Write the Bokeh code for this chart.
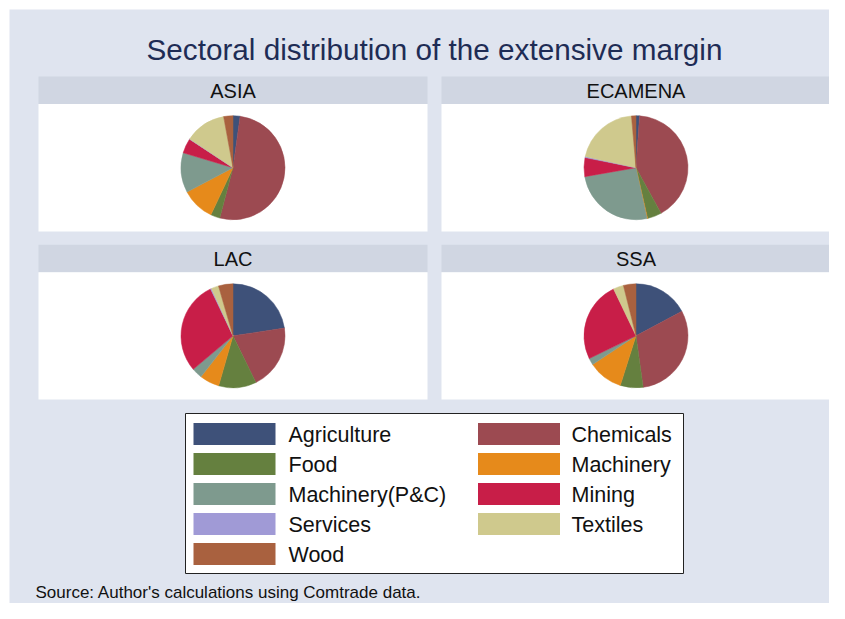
import numpy as np
from bokeh.plotting import figure
from bokeh.models import Range1d, Label, ColumnDataSource
from bokeh.core.properties import value
from bokeh.embed import file_html
from bokeh.resources import INLINE

# ---------------- data ----------------
sectors = ["Agriculture", "Chemicals", "Food", "Machinery", "Machinery(P&C)",
           "Mining", "Services", "Textiles", "Wood"]
colors = ["#3e5179", "#9c4a51", "#65803f", "#e68a1b", "#7e9a8e",
          "#c81e48", "#a09ad6", "#cfc98d", "#a9613f"]
regions = ["ASIA", "ECAMENA", "LAC", "SSA"]
asia = [2.2, 52.0, 2.9, 10.3, 12.4, 4.6, 0.1, 12.8, 2.9]
ecamena = [1.1, 41.0, 4.4, 0.2, 25.7, 5.9, 0.3, 20.2, 1.4]
lac = [22.6, 20.1, 11.7, 6.1, 3.3, 29.0, 0.3, 2.3, 4.5]
ssa = [17.2, 30.6, 7.1, 10.8, 2.1, 25.1, 0.0, 3.2, 3.9]
shares = [asia, ecamena, lac, ssa]
title = "Sectoral distribution of the extensive margin"
note = "Source: Author's calculations using Comtrade data."

# ---------------- layout ----------------
W, H = 829, 603
BG = "#dfe4ef"
HDR = "#d0d6e2"
FONT = "Liberation Sans"

def Y(ytop):
    return H - ytop

def X(ximg):
    return ximg

p = figure(width=W, height=H, x_range=Range1d(0, W), y_range=Range1d(0, H),
           output_backend="svg", toolbar_location=None, min_border=0)
p.axis.visible = False
p.grid.visible = False
p.outline_line_color = None
p.background_fill_color = "white"
p.border_fill_color = "white"

# graph region background
p.quad(left=X(9), right=X(W + 20), top=Y(9), bottom=Y(H + 20), fill_color=BG, line_color=None)

cols = [(38, 427), (441, 830)]
rows = [((76, 103.5), (103.5, 231)), ((244.3, 271.7), (271.7, 399))]
R = 52

for i, reg in enumerate(regions):
    cx0, cx1 = cols[i % 2]
    (h0, h1), (w0, w1) = rows[i // 2]
    p.quad(left=X(cx0), right=X(cx1), top=Y(h0), bottom=Y(h1),
           fill_color=HDR, line_color=None)
    p.quad(left=X(cx0), right=X(cx1), top=Y(w0), bottom=Y(w1),
           fill_color="white", line_color=None)
    p.text(x=[X((cx0 + cx1) / 2)], y=[Y((h0 + h1) / 2 + 0.5)], text=[reg],
           text_font=value(FONT), text_font_size="20px", text_color="#111111",
           text_align="center", text_baseline="middle")
    vals = np.array(shares[i], dtype=float)
    frac = vals / vals.sum()
    cum = np.concatenate([[0], np.cumsum(frac)])
    start = np.pi / 2 - cum[:-1] * 2 * np.pi
    end = np.pi / 2 - cum[1:] * 2 * np.pi
    keep = frac > 0
    cx = X((cx0 + cx1) / 2)
    cy = Y((w0 + w1) / 2)
    src = ColumnDataSource(dict(start=start[keep], end=end[keep],
                                color=[c for c, k in zip(colors, keep) if k],
                                x=[cx] * int(keep.sum()), y=[cy] * int(keep.sum())))
    p.wedge(x="x", y="y", radius=R, start_angle="start", end_angle="end",
            direction="clock", fill_color="color", line_color="color",
            line_width=0.5, source=src)

# title
p.add_layout(Label(x=X(434), y=Y(49), text=title, text_font=FONT,
                   text_font_size="29.7px", text_color="#1e2c55",
                   text_align="center", text_baseline="middle"))

# legend box
p.quad(left=X(185), right=X(683), top=Y(413), bottom=Y(573),
       fill_color="white", line_color="#222222", line_width=1)
sw_left, sw_right, sw_top, sw_bot, tx, ty, labs, cl = [], [], [], [], [], [], [], []
for j, name in enumerate(sectors):
    c = j % 2
    r = j // 2
    x0 = 193 if c == 0 else 477.5
    yc = 433.5 + 30 * r
    sw_left.append(X(x0)); sw_right.append(X(x0 + 82))
    sw_top.append(Y(yc - 11)); sw_bot.append(Y(yc + 11))
    tx.append(X(288 if c == 0 else 571)); ty.append(Y(yc + 1))
    labs.append(name); cl.append(colors[j])
p.quad(left=sw_left, right=sw_right, top=sw_top, bottom=sw_bot,
       fill_color=cl, line_color=None)
p.text(x=tx, y=ty, text=labs, text_font=value(FONT), text_font_size="21.5px",
       text_color="#111111", text_align="left", text_baseline="middle")

p.add_layout(Label(x=X(35), y=Y(592), text=note, text_font=FONT,
                   text_font_size="17px", text_color="#111111",
                   text_align="left", text_baseline="middle"))

open("out.html", "w").write(file_html(p, INLINE))
